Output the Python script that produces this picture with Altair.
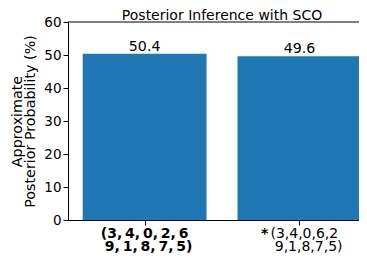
import altair as alt
import pandas as pd

# ---- data ----
positions = [0, 1]
probs = [50.4, 49.6]
bar_labels = ["50.4", "49.6"]
label1_line1 = "(3,\u20094,\u20090,\u20092,\u20096"
label1_line2 = "9,\u20091,\u20098,\u20097,\u20095)"
label2_star = "*"
label2_line1 = "(3,4,0,6,2"
label2_line2 = "9,1,8,7,5)"
y_ticks = [0, 10, 20, 30, 40, 50, 60]
title_text = "Posterior Inference with SCO"
y_title = ["Approximate", "Posterior Probability (%)"]

FONT = "DejaVu Sans"
BLUE = "#1f77b4"

bars_df = pd.DataFrame({"pos": positions, "prob": probs, "lab": bar_labels})
bars_df["left"] = bars_df["pos"] - 0.4
bars_df["right"] = bars_df["pos"] + 0.4

PLOT_W = 291
xscale = alt.Scale(domain=[-0.495, -0.495 + PLOT_W / 154.8], nice=False, zero=False)
yscale = alt.Scale(domain=[0, 60], nice=False)

xaxis = alt.Axis(values=positions, labels=False, title=None, grid=False,
                 tickSize=5, tickColor="black", tickWidth=1,
                 domainColor="black", domainWidth=1)
yaxis = alt.Axis(values=y_ticks, grid=False, tickSize=5, tickColor="black",
                 tickWidth=1, domainColor="black", domainWidth=1,
                 labelFont=FONT, labelFontSize=13.5, labelColor="black",
                 labelPadding=2, labelOverlap=False,
                 title=y_title, titleFont=FONT, titleFontSize=14.3,
                 titleFontWeight="normal", titleColor="black",
                 titlePadding=6, titleLineHeight=13)

base = alt.Chart(bars_df)

bars = base.mark_bar(color=BLUE, clip=True).encode(
    x=alt.X("left:Q", scale=xscale, axis=xaxis),
    x2="right:Q",
    y=alt.Y("prob:Q", scale=yscale, axis=yaxis),
    y2=alt.datum(0),
)

value_text = base.mark_text(font=FONT, fontSize=14.2, color="black", dy=-3,
                            baseline="alphabetic").encode(
    x=alt.X("pos:Q", scale=xscale, axis=xaxis),
    y=alt.Y("prob:Q", scale=yscale, axis=yaxis),
    text="lab:N",
)

top_spine = alt.Chart(pd.DataFrame({"top": [60]})).mark_rule(
    color="black", strokeWidth=1).encode(y=alt.Y("top:Q", scale=yscale, axis=yaxis))

title_mark = alt.Chart(pd.DataFrame({"mid": [0.5], "t": [title_text]})).mark_text(
    font=FONT, fontSize=14, color="black", baseline="alphabetic", align="center"
).encode(
    x=alt.X("mid:Q", scale=xscale, axis=xaxis),
    y=alt.value(-2.5),
    text="t:N",
)

def xlabel(text, pos, yv, dx, align, weight):
    df = pd.DataFrame({"pos": [pos], "t": [text]})
    return alt.Chart(df).mark_text(font=FONT, fontSize=14, color="black",
                                   fontWeight=weight, align=align, dx=dx,
                                   baseline="alphabetic").encode(
        x=alt.X("pos:Q", scale=xscale, axis=xaxis),
        y=alt.value(yv),
        text="t:N",
    )

labels = [
    xlabel(label1_line1, positions[0], 216, 0, "center", "bold"),
    xlabel(label1_line2, positions[0], 229, 4, "center", "bold"),
    xlabel(label2_star, positions[1], 216, -38.5, "left", "bold"),
    xlabel(label2_line1, positions[1], 216, -29, "left", "normal"),
    xlabel(label2_line2, positions[1], 229, -24.7, "left", "normal"),
]

chart = alt.layer(bars, value_text, top_spine, title_mark, *labels).properties(
    width=PLOT_W, height=198,
    autosize=alt.AutoSizeParams(type="none"),
    padding={"left": 60, "top": 14, "right": 0, "bottom": 40},
).configure_view(strokeWidth=0)

chart.save("out.html", embed_options={"renderer": "svg", "actions": False})
